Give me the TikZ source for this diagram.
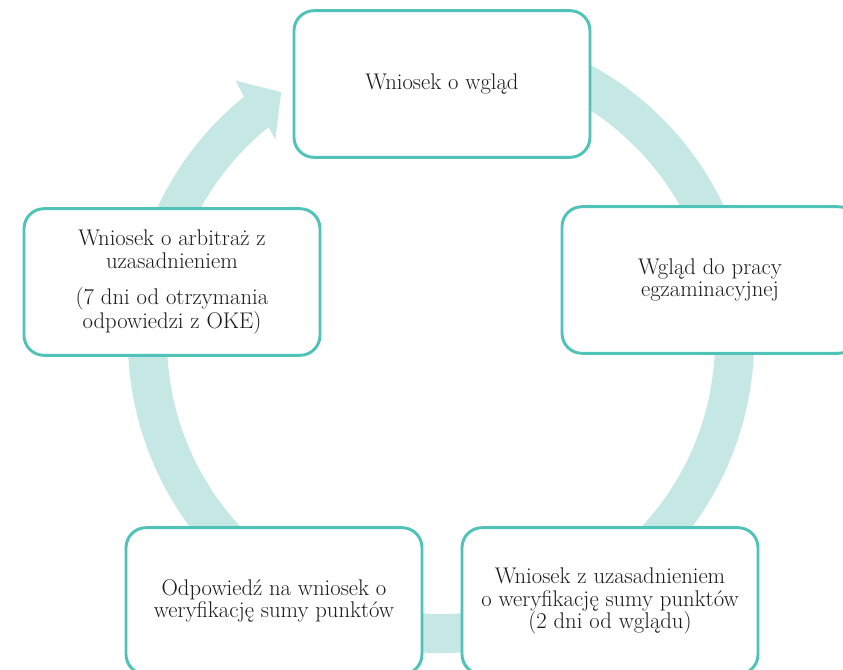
\documentclass[tikz,border=0pt]{standalone}
\usetikzlibrary{calc}
\definecolor{boxline}{HTML}{4FC3B8}
\definecolor{bandcol}{HTML}{C6E8E5}
\definecolor{txt}{HTML}{1A1A1A}
\begin{document}
\begin{tikzpicture}[x=0.75pt,y=0.75pt,
  stagebox/.style={draw=boxline, line width=2.2pt, fill=white, rounded corners=15pt,
    minimum width=222pt, minimum height=110pt, align=center, text=txt,
    font=\fontsize{17}{16.8}\selectfont, inner sep=4pt}]
\useasboundingbox (0,0) rectangle (843,-669);
\clip (0,0) rectangle (843,-669);
\coordinate (C) at (441,-340);
% circular arrow band
\fill[bandcol] ($(C)+(70:313)$) arc[start angle=70, end angle=-231, radius=313]
  -- ($(C)+(-231.6:331)$) -- ($(C)+(122.8:295)$) -- ($(C)+(-230.4:260)$)
  -- ($(C)+(-231:274)$) arc[start angle=-231, end angle=70, radius=274] -- cycle;
% stages
\node[stagebox] (top) at (442,-84) {Wniosek o wgląd};
\node[stagebox] (rgt) at (710,-280) {Wgląd do pracy\\egzaminacyjnej};
\node[stagebox] (br) at (610,-601) {Wniosek z uzasadnieniem\\o weryfikację sumy punktów\\(2 dni od wglądu)};
\node[stagebox] (bl) at (274,-601) {Odpowiedź na wniosek o\\weryfikację sumy punktów};
\node[stagebox] (lft) at (172,-282) {Wniosek o arbitraż z\\uzasadnieniem\\[10pt](7 dni od otrzymania\\odpowiedzi z OKE)};
\end{tikzpicture}
\end{document}
